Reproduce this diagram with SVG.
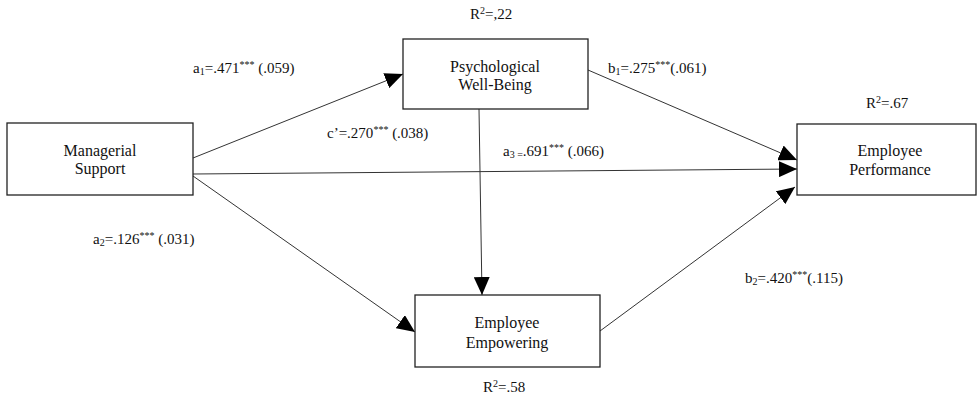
<svg xmlns="http://www.w3.org/2000/svg" width="978" height="398" viewBox="0 0 978 398">
<style>
.box{fill:#fff;stroke:#222;stroke-width:1.3}
text{font-family:'Liberation Serif','Times New Roman','DejaVu Serif',serif}
.node{font-size:16px;fill:#111;text-anchor:middle}
.lbl{font-size:15px;fill:#111}
.sub{font-size:10px}
.edge{stroke:#333;stroke-width:1;fill:none;marker-end:url(#ah)}
</style>
<defs>
<marker id="ah" markerUnits="userSpaceOnUse" markerWidth="20" markerHeight="16" refX="18" refY="8" orient="auto">
<path d="M0,0 L18,8 L0,16 Z" fill="#000"/>
</marker>
</defs>
<g id="connectors">
<line class="edge" x1="193" y1="158" x2="403" y2="74"/>
<line class="edge" x1="193" y1="174" x2="797" y2="169"/>
<line class="edge" x1="193" y1="176" x2="415" y2="332"/>
<line class="edge" x1="588" y1="70" x2="797" y2="160"/>
<line class="edge" x1="479" y1="109" x2="482" y2="295"/>
<line class="edge" x1="600" y1="331" x2="795" y2="187"/>
</g>
<g id="managerial-support">
<rect class="box" x="7" y="123" width="186" height="72"/>
<text class="node" x="100" y="156">Managerial</text>
<text class="node" x="100" y="174">Support</text>
</g>
<g id="psychological-well-being">
<rect class="box" x="403" y="39" width="185" height="70"/>
<text class="node" x="495" y="72">Psychological</text>
<text class="node" x="495" y="90">Well-Being</text>
</g>
<g id="employee-performance">
<rect class="box" x="797" y="124" width="179" height="71"/>
<text class="node" x="890" y="156">Employee</text>
<text class="node" x="890" y="175">Performance</text>
</g>
<g id="employee-empowering">
<rect class="box" x="415" y="295" width="185" height="72"/>
<text class="node" x="507" y="328">Employee</text>
<text class="node" x="507" y="348">Empowering</text>
</g>
<g id="labels">
<text class="lbl" x="470" y="19">R<tspan class="sub" dy="-5">2</tspan><tspan dy="5">=,22</tspan></text>
<text class="lbl" x="193" y="73">a<tspan class="sub" dy="2">1</tspan><tspan dy="-2">=.471</tspan><tspan class="sub" dy="-5">***</tspan><tspan dy="5"> (.059)</tspan></text>
<text class="lbl" x="608" y="73">b<tspan class="sub" dy="2">1</tspan><tspan dy="-2">=.275</tspan><tspan class="sub" dy="-5">***</tspan><tspan dy="5">(.061)</tspan></text>
<text class="lbl" x="866" y="108">R<tspan class="sub" dy="-5">2</tspan><tspan dy="5">=.67</tspan></text>
<text class="lbl" x="327" y="138">c’=.270<tspan class="sub" dy="-5">***</tspan><tspan dy="5"> (.038)</tspan></text>
<text class="lbl" x="503" y="156">a<tspan class="sub" dy="2">3 =</tspan><tspan dy="-2">.691</tspan><tspan class="sub" dy="-5">***</tspan><tspan dy="5"> (.066)</tspan></text>
<text class="lbl" x="93" y="244">a<tspan class="sub" dy="2">2</tspan><tspan dy="-2">=.126</tspan><tspan class="sub" dy="-5">***</tspan><tspan dy="5"> (.031)</tspan></text>
<text class="lbl" x="745" y="283">b<tspan class="sub" dy="2">2</tspan><tspan dy="-2">=.420</tspan><tspan class="sub" dy="-5">***</tspan><tspan dy="5">(.115)</tspan></text>
<text class="lbl" x="483" y="392">R<tspan class="sub" dy="-5">2</tspan><tspan dy="5">=.58</tspan></text>
</g>
</svg>
